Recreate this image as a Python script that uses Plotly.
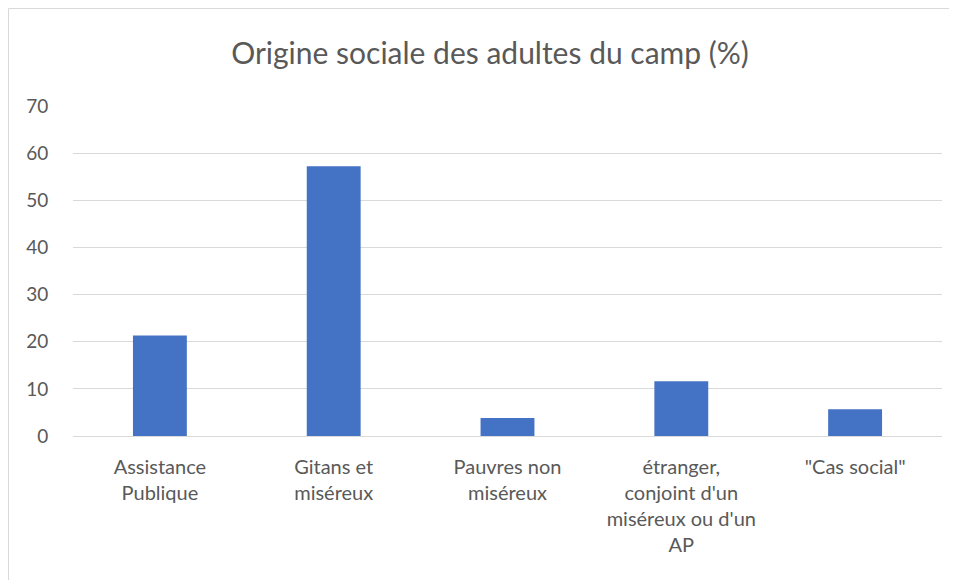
import plotly.graph_objects as go

categories = ["Assistance<br>Publique", "Gitans et<br>miséreux", "Pauvres non<br>miséreux",
              "étranger,<br>conjoint d'un<br>miséreux ou d'un<br>AP", "\"Cas social\""]
values = [21.3, 57.2, 3.8, 11.6, 5.7]
y_ticks = [0, 10, 20, 30, 40, 50, 60, 70]

FONT = "Lato, Open Sans, sans-serif"
GRAY = "#595959"

# page body has an 8px margin, so the figure is drawn at (8, 8)
OFF = 8
W, H = 957 - OFF, 580 - OFF
L, R, T = 73 - OFF, 15, 106 - OFF
B = H - (436 - OFF)
pw, ph = W - L - R, H - T - B

fig = go.Figure(go.Bar(x=categories, y=values, marker=dict(color="#4472C4", line=dict(width=0)),
                       width=0.31))

fig.update_layout(
    width=W, height=H,
    margin=dict(l=L, r=R, t=T, b=B),
    paper_bgcolor="white", plot_bgcolor="white",
    title=dict(text="Origine sociale des adultes du camp (%)", x=(490 - OFF - L) / pw, xref="paper",
               xanchor="center", y=1 - (53 - OFF) / H, yanchor="middle",
               font=dict(family=FONT, size=30, color=GRAY)),
    font=dict(family=FONT, color=GRAY),
    showlegend=False,
    bargap=0.69,
    xaxis=dict(showgrid=False, showline=False, ticks="", ticklabelstandoff=17,
               tickfont=dict(size=20, color=GRAY)),
    yaxis=dict(range=[0, 70], tickvals=y_ticks, showgrid=True, gridcolor="#d9d9d9", gridwidth=1,
               zeroline=True, zerolinecolor="#d9d9d9", zerolinewidth=1, showline=False,
               ticks="outside", ticklen=20, tickcolor="rgba(0,0,0,0)",
               tickfont=dict(size=19, color=GRAY)),
    shapes=[dict(type="rect", xref="paper", yref="paper",
                 x0=(0.5 - L) / pw, x1=(W + 10 - L) / pw,
                 y0=-(B + 10) / ph, y1=(H - B - 0.5) / ph,
                 line=dict(color="#d9d9d9", width=1), fillcolor="rgba(0,0,0,0)", layer="below")],
)

fig.write_html("out.html")
